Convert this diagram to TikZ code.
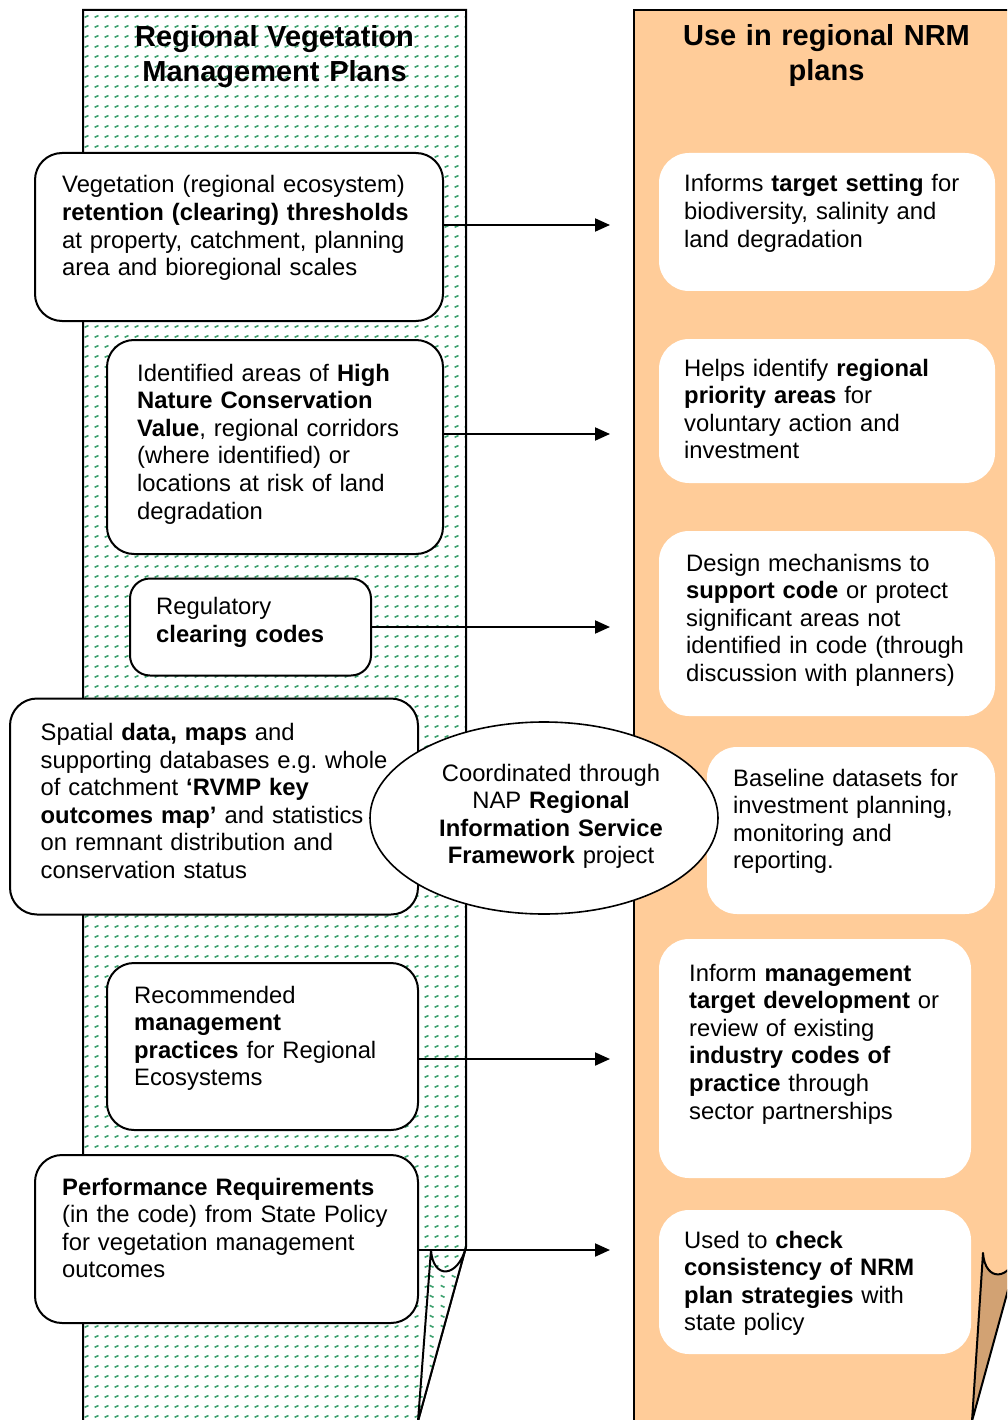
\documentclass[tikz,border=0pt]{standalone}
\usepackage{fontspec}
\setmainfont{Liberation Sans}
\usetikzlibrary{shapes.geometric,arrows.meta,patterns}
\definecolor{vgreen}{RGB}{60,160,110}
\definecolor{nrmorange}{RGB}{255,204,153}
\definecolor{foldbrown}{RGB}{210,162,115}
\frenchspacing
\pgfdeclarepatternformonly{vegdots}{\pgfqpoint{0pt}{0pt}}{\pgfqpoint{10.4pt}{10.2pt}}{\pgfqpoint{10.4pt}{10.2pt}}{%
  \pgfsetlinewidth{1.7pt}%
  \pgfpathmoveto{\pgfqpoint{2.8pt}{4pt}}%
  \pgfpathlineto{\pgfqpoint{6.8pt}{5.8pt}}%
  \pgfusepath{stroke}}
\pgfdeclarepatternformonly{vegdotsb}{\pgfqpoint{0pt}{0pt}}{\pgfqpoint{10.4pt}{10.2pt}}{\pgfqpoint{10.4pt}{10.2pt}}{%
  \pgfsetlinewidth{1.7pt}%
  \pgfpathmoveto{\pgfqpoint{2.8pt}{6pt}}%
  \pgfpathlineto{\pgfqpoint{6.8pt}{4pt}}%
  \pgfusepath{stroke}}
\tikzset{
  lbox/.style={draw=black, line width=2pt, fill=white, rounded corners=27pt, inner sep=0pt, shape=rectangle},
  rbox/.style={fill=white, rounded corners=30pt, inner sep=0pt, shape=rectangle},
  txt/.style={anchor=base west, inner sep=0pt, text width=380pt, align=left, font=\fontsize{23.8}{27.6}\selectfont},
  ttl/.style={anchor=base, inner sep=0pt, text width=380pt, align=center, font=\fontsize{29}{35}\selectfont\bfseries},
  conn/.style={line width=2pt, -{Triangle[length=15pt,width=13pt]}},
  colborder/.style={line width=2pt, line join=miter},
}
\begin{document}
\begin{tikzpicture}[x=1pt,y=-1pt]
\useasboundingbox (0,0) rectangle (1007,1420);
\clip (0,0) rectangle (1007,1420);
% left column
\fill[pattern=vegdots, pattern color=vgreen] (83,10) -- (466,10) -- (466,1247) -- (418,1420) -- (83,1420) -- cycle;
\draw[colborder] (83,1421) -- (83,10) -- (466,10) -- (466,1247) -- (418,1421);
\fill[white] (431,1250) .. controls (433,1280) and (458,1278) .. (466,1247) -- (418,1420) -- cycle;
\fill[pattern=vegdotsb, pattern color=vgreen] (431,1250) .. controls (433,1280) and (458,1278) .. (466,1247) -- (418,1420) -- cycle;
\draw[line width=2pt, line join=round] (431,1250) .. controls (433,1280) and (458,1278) .. (466,1247) -- (418,1421) -- cycle;
% right column
\fill[nrmorange] (634,10) -- (1019,10) -- (1019,1250) -- (972,1420) -- (634,1420) -- cycle;
\draw[colborder] (634,1421) -- (634,10) -- (1019,10);
\filldraw[fill=foldbrown, line width=2pt, line join=round] (983,1253) .. controls (985,1282) and (1010,1282) .. (1019,1250) -- (972,1421) -- cycle;
% titles
\node[ttl] (tL) at (274.5,46.7) {Regional Vegetation\\Management Plans};
\node[ttl] (tR) at (826.5,46) {Use in regional NRM\\plans};
% right boxes
\node[rbox, minimum width=336pt, minimum height=138pt] (r1) at (827,222) {};
\node[rbox, minimum width=336pt, minimum height=144pt] (r2) at (827,411) {};
\node[rbox, minimum width=336pt, minimum height=185pt] (r3) at (827,623.5) {};
\node[rbox, minimum width=288pt, minimum height=167pt] (r4) at (851,830.5) {};
\node[rbox, minimum width=312pt, minimum height=239pt] (r5) at (815,1058.5) {};
\node[rbox, minimum width=312pt, minimum height=144pt] (r6) at (815,1282) {};
% left boxes
\node[lbox, minimum width=408pt, minimum height=168pt] (bA) at (239,237) {};
\node[lbox, minimum width=336pt, minimum height=214pt] (bB) at (275,447) {};
\node[lbox, minimum width=241pt, minimum height=97pt, rounded corners=20pt] (bC) at (250.5,627) {};
\node[lbox, minimum width=408pt, minimum height=216pt] (bD) at (214,806.5) {};
\node[lbox, minimum width=311pt, minimum height=167pt] (bE) at (262.5,1046.5) {};
\node[lbox, minimum width=383pt, minimum height=168pt] (bF) at (226.5,1239) {};
% ellipse
\node[draw=black, line width=1.6pt, fill=white, shape=ellipse, minimum width=348pt, minimum height=192pt, inner sep=0pt] (ell) at (544,818) {};
% arrows
\coordinate (e1) at (610,225);
\coordinate (e2) at (610,434);
\coordinate (e3) at (610,627);
\coordinate (e5) at (610,1059);
\coordinate (e6) at (610,1250);
\draw[conn] (e1 -| bA.east) -- (e1);
\draw[conn] (e2 -| bB.east) -- (e2);
\draw[conn] (e3 -| bC.east) -- (e3);
\draw[conn] (e5 -| bE.east) -- (e5);
\draw[conn] (e6 -| bF.east) -- (e6);
% left texts
\node[txt] (xA) at (62,193) {Vegetation (regional ecosystem)\\\textbf{retention (clearing) thresholds}\\at property, catchment, planning\\area and bioregional scales};
\node[txt] (xB) at (137,381) {Identified areas of \textbf{High}\\\textbf{Nature Conservation}\\\textbf{Value}, regional corridors\\(where identified) or\\locations at risk of land\\degradation};
\node[txt] (xC) at (156,614.5) {Regulatory\\\textbf{clearing codes}};
\node[txt] (xD) at (40.5,740.5) {Spatial \textbf{data, maps} and\\supporting databases e.g. whole\\of catchment \textbf{‘RVMP key}\\\textbf{outcomes map’} and statistics\\on remnant distribution and\\conservation status};
\node[txt] (xE) at (134,1003) {Recommended\\\textbf{management}\\\textbf{practices} for Regional\\Ecosystems};
\node[txt] (xF) at (62,1195) {\textbf{Performance Requirements}\\(in the code) from State Policy\\for vegetation management\\outcomes};
% ellipse text
\node[txt, anchor=base, align=center, text width=260pt] (xell) at (551,781) {Coordinated through\\NAP \textbf{Regional}\\\textbf{Information Service}\\\textbf{Framework} project};
% right texts
\node[txt] (y1) at (684,192) {Informs \textbf{target setting} for\\biodiversity, salinity and\\land degradation};
\node[txt] (y2) at (684,376) {Helps identify \textbf{regional}\\\textbf{priority areas} for\\voluntary action and\\investment};
\node[txt] (y3) at (686,571) {Design mechanisms to\\\textbf{support code} or protect\\significant areas not\\identified in code (through\\discussion with planners)};
\node[txt] (y4) at (733,786) {Baseline datasets for\\investment planning,\\monitoring and\\reporting.};
\node[txt] (y5) at (689,981) {Inform \textbf{management}\\\textbf{target development} or\\review of existing\\\textbf{industry codes of}\\\textbf{practice} through\\sector partnerships};
\node[txt] (y6) at (684,1248) {Used to \textbf{check}\\\textbf{consistency of NRM}\\\textbf{plan strategies} with\\state policy};
\end{tikzpicture}
\end{document}
